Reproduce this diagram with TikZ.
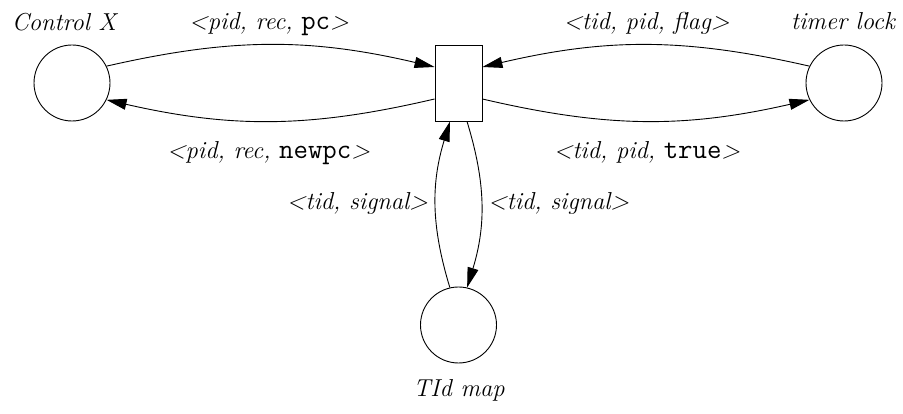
\documentclass[tikz,border=0pt]{standalone}
\usetikzlibrary{arrows.meta}
\begin{document}
\begin{tikzpicture}[x=1pt,y=1pt,
  place/.style={draw,circle,minimum size=76pt,inner sep=0pt,line width=0.9pt},
  trans/.style={draw,rectangle,minimum width=47pt,minimum height=76pt,inner sep=0pt,line width=0.9pt},
  arc/.style={line width=0.9pt,-{Triangle[length=20pt,width=11pt]}},
  lbl/.style={font=\fontsize{24.5}{28}\selectfont\itshape,inner sep=0pt}]
\newcommand{\mono}[1]{{\fontsize{28}{28}\selectfont\upshape\ttfamily #1}}
\useasboundingbox (0,0) rectangle (903,414);

% places and the transition
\node[place] (cx) at (72,331) {};
\node[place] (tl) at (844,331) {};
\node[place] (tm) at (458.5,89) {};
\node[trans] (t) at (458.5,331) {};

% arcs between Control X and the transition
\draw[arc] (cx.26) to[bend left=13] ([yshift=16pt]t.west);
\draw[arc] ([yshift=-16pt]t.west) to[bend left=13] (cx.-26);

% arcs between timer lock and the transition
\draw[arc] (tl.154) to[bend right=13] ([yshift=16pt]t.east);
\draw[arc] ([yshift=-16pt]t.east) to[bend right=13] (tl.206);

% arcs between TId map and the transition
\draw[arc] (tm.103) to[bend left=17] ([xshift=-8.5pt]t.south);
\draw[arc] ([xshift=8.5pt]t.south) to[bend left=17] (tm.77);

% place names
\node[lbl,anchor=base] (ncx) at (64,383) {Control X};
\node[lbl,anchor=base] (ntl) at (843,384) {timer lock};
\node[lbl,anchor=base] (ntm) at (459,17) {TId map};

% arc inscriptions
\node[lbl,anchor=base] (a1) at (269,384) {\textless pid, rec, \mono{pc}\textgreater};
\node[lbl,anchor=base] (a2) at (268.5,255) {\textless pid, rec, \mono{newpc}\textgreater};
\node[lbl,anchor=base] (a3) at (646.5,384) {\textless tid, pid, flag\textgreater};
\node[lbl,anchor=base] (a4) at (647,255) {\textless tid, pid, \mono{true}\textgreater};
\node[lbl,anchor=base east] (a5) at (428,204) {\textless tid, signal\textgreater};
\node[lbl,anchor=base west] (a6) at (488,204) {\textless tid, signal\textgreater};
\end{tikzpicture}
\end{document}
